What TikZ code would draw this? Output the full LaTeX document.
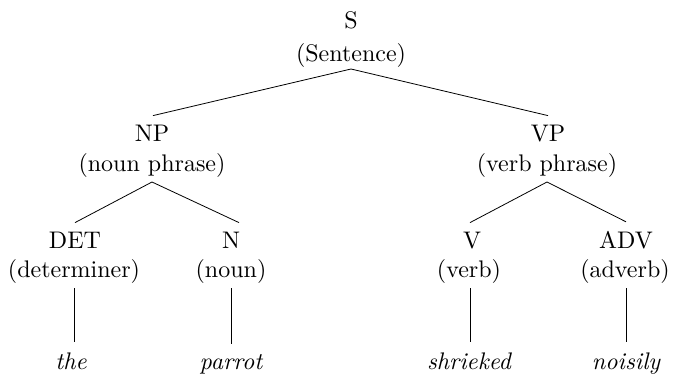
\documentclass[tikz,border=0pt]{standalone}
\begin{document}
\begin{tikzpicture}[x=1pt,y=-1pt,
  lbl/.style={inner sep=0pt,outer sep=0pt,anchor=base,scale=2.4,transform shape,font=\fontsize{10}{12}\selectfont},
  word/.style={lbl,font=\fontsize{10}{12}\selectfont\itshape},
  branch/.style={line width=0.8pt,black}]
\useasboundingbox (0,0) rectangle (673,375);
% level 0
\node[lbl] (S) at (351,28) {S};
\node[lbl] (Sg) at (351,61) {(Sentence)};
% level 1
\node[lbl] (NP) at (152,141) {NP};
\node[lbl] (NPg) at (152,171) {(noun phrase)};
\node[lbl] (VP) at (548,141) {VP};
\node[lbl] (VPg) at (547,171) {(verb phrase)};
% level 2
\node[lbl] (DET) at (75,248) {DET};
\node[lbl] (DETg) at (74,277) {(determiner)};
\node[lbl] (N) at (231,248) {N};
\node[lbl] (Ng) at (231,277) {(noun)};
\node[lbl] (V) at (472,248) {V};
\node[lbl] (Vg) at (469,277) {(verb)};
\node[lbl] (ADV) at (626,248) {ADV};
\node[lbl] (ADVg) at (625,277) {(adverb)};
% words
\node[word] (the) at (71,369) {the};
\node[word] (parrot) at (231,369) {parrot};
\node[word] (shrieked) at (469,369) {shrieked};
\node[word] (noisily) at (626,369) {noisily};
% branches
\draw[branch] ([yshift=-2pt]Sg.south) -- ([xshift=1pt,yshift=9pt]NP.north);
\draw[branch] ([yshift=-2pt]Sg.south) -- ([yshift=9pt]VP.north);
\draw[branch] ([yshift=-5pt]NPg.south) -- ([yshift=9pt]DET.north);
\draw[branch] ([yshift=-5pt]NPg.south) -- ([xshift=8pt,yshift=9pt]N.north);
\draw[branch] ([yshift=-5pt]VPg.south) -- ([xshift=-2pt,yshift=9pt]V.north);
\draw[branch] ([yshift=-5pt]VPg.south) -- ([yshift=9pt]ADV.north);
\draw[branch] ([yshift=-5pt]DETg.south) -- ([yshift=10pt]DETg.south |- the.north);
\draw[branch] ([yshift=-5pt]Ng.south) -- ([yshift=10pt]Ng.south |- parrot.north);
\draw[branch] ([xshift=1pt,yshift=-5pt]Vg.south) -- ([xshift=1pt,yshift=10pt]Vg.south |- shrieked.north);
\draw[branch] ([xshift=1pt,yshift=-5pt]ADVg.south) -- ([xshift=1pt,yshift=10pt]ADVg.south |- noisily.north);
\end{tikzpicture}
\end{document}
